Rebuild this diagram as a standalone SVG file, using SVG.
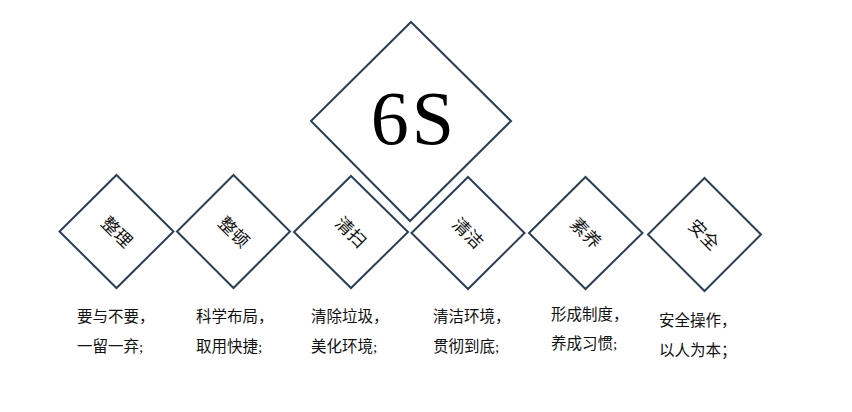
<svg xmlns="http://www.w3.org/2000/svg" width="852" height="412" viewBox="0 0 852 412">
<style>
.d{fill:#fff;stroke:#2b4055;stroke-width:2}
.big{font-family:"Liberation Serif","Noto Sans CJK SC",serif;font-size:76px;letter-spacing:3px;fill:#000;text-anchor:middle}
.lab{font-family:"Liberation Serif","Noto Sans CJK SC",serif;font-size:17.5px;fill:#111;text-anchor:middle}
.desc{font-family:"Liberation Serif","Noto Sans CJK SC",serif;font-size:15.5px;fill:#111}
</style>
<rect width="852" height="412" fill="#fff"/>
<g id="n-6s">
<polygon class="d" points="411,22 511,121 410,221 311,121"/>
<text class="big" x="414" y="144">6S</text>
</g>
<g id="n-seiri">
<polygon class="d" points="116.5,175 173.5,231.5 116.5,288 59.5,231.5"/>
<text class="lab" transform="translate(117,232) rotate(45)" y="6.5">整理</text>
</g>
<g id="n-seiton">
<polygon class="d" points="233.5,175 290,231.5 233.5,288 177,231.5"/>
<text class="lab" transform="translate(234,232) rotate(45)" y="6.5">整顿</text>
</g>
<g id="n-seiso">
<polygon class="d" points="351,176 408,232 351,288 294,232"/>
<text class="lab" transform="translate(351,232) rotate(45)" y="6.5">清扫</text>
</g>
<g id="n-seiketsu">
<polygon class="d" points="468,177 524.5,233 468,289 411.5,233"/>
<text class="lab" transform="translate(468,233) rotate(45)" y="6.5">清洁</text>
</g>
<g id="n-shitsuke">
<polygon class="d" points="585.5,177 642.5,233 585.5,289 529,233"/>
<text class="lab" transform="translate(586,233) rotate(45)" y="6.5">素养</text>
</g>
<g id="n-safety">
<polygon class="d" points="704.5,178 761,234.5 704.5,291 648,234.5"/>
<text class="lab" transform="translate(704,234.5) rotate(45)" y="6.5">安全</text>
</g>
<g id="descriptions">
<text class="desc" x="77" y="322">要与不要，</text>
<text class="desc" x="77" y="352">一留一弃;</text>
<text class="desc" x="196" y="322">科学布局，</text>
<text class="desc" x="196" y="352">取用快捷;</text>
<text class="desc" x="311" y="322">清除垃圾，</text>
<text class="desc" x="311" y="352">美化环境;</text>
<text class="desc" x="433" y="322">清洁环境，</text>
<text class="desc" x="433" y="352">贯彻到底;</text>
<text class="desc" x="551" y="320">形成制度，</text>
<text class="desc" x="551" y="349">养成习惯;</text>
<text class="desc" x="659" y="326">安全操作，</text>
<text class="desc" x="659" y="356">以人为本；</text>
</g>
<g id="connectors"></g>
</svg>
